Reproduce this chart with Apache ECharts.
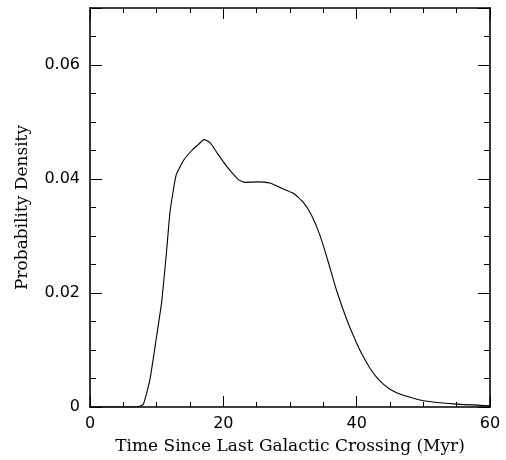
<!DOCTYPE html>
<html><head><meta charset="utf-8">
<script src="https://cdn.jsdelivr.net/npm/echarts@6/dist/echarts.min.js"></script>
<style>html,body{margin:0;padding:0;background:#fff}#c{width:506px;height:460px}</style>
</head><body><div id="c"></div>
<script>
var xValues = [0, 7, 8, 9, 10, 10.75, 11.5, 12, 12.9, 14, 15.25, 16.2, 17.1, 18, 19, 20, 21, 22.25, 23.25, 25, 27, 28.5, 30.5, 32, 33.25, 34.5, 35.75, 37, 38.5, 40, 41, 42, 43, 44, 45, 46, 47.5, 50, 55, 60];
var densityValues = [0, 0, 0.0005, 0.0049, 0.0125, 0.0184, 0.0275, 0.0342, 0.0406, 0.0432, 0.0450, 0.0460, 0.0469, 0.0464, 0.0447, 0.0430, 0.0415, 0.0399, 0.0394, 0.0395, 0.0393, 0.0385, 0.0375, 0.0359, 0.0336, 0.0301, 0.0254, 0.0204, 0.0154, 0.0112, 0.0088, 0.0068, 0.0052, 0.0040, 0.0031, 0.0025, 0.0019, 0.0011, 0.0005, 0.0002];
var xTickLabels = ['0', '20', '40', '60'];
var yTickLabels = ['0', '0.02', '0.04', '0.06'];

var chart = echarts.init(document.getElementById('c'), null, {renderer: 'canvas'});
var serif = 'DejaVu Serif';
var sans = 'DejaVu Sans';
function xAx(pos, major, showLabel, showLine, name) {
  return {
    type: 'value', position: pos, min: 0, max: 60, interval: major ? 20 : 5,
    axisLine: {show: showLine, onZero: false, lineStyle: {color: '#000', width: 1.6}},
    axisTick: {show: true, inside: true, length: major ? 11 : 5, lineStyle: {color: '#000', width: 1}},
    axisLabel: {show: showLabel, margin: 9, color: '#000', fontFamily: sans, fontSize: 16,
      formatter: function (v) { var i = xTickLabels.indexOf(String(v)); return i >= 0 ? xTickLabels[i] : ''; }},
    splitLine: {show: false},
    name: name || '', nameLocation: 'middle', nameGap: 31,
    nameTextStyle: {color: '#000', fontFamily: serif, fontSize: 17}
  };
}
function yAx(pos, major, showLabel, showLine, name) {
  return {
    type: 'value', position: pos, min: 0, max: 0.07, interval: major ? 0.02 : 0.005,
    axisLine: {show: showLine, onZero: false, lineStyle: {color: '#000', width: 1.6}},
    axisTick: {show: true, inside: true, length: major ? 12 : 6, lineStyle: {color: '#000', width: 1}},
    axisLabel: {show: showLabel, margin: 10, color: '#000', fontFamily: sans, fontSize: 16,
      formatter: function (v) { var s = String(+v.toFixed(3)); return yTickLabels.indexOf(s) >= 0 ? s : ''; }},
    splitLine: {show: false},
    name: name || '', nameLocation: 'middle', nameGap: 59,
    nameTextStyle: {color: '#000', fontFamily: serif, fontSize: 17}
  };
}
chart.setOption({
  backgroundColor: '#fff',
  animation: false,
  grid: {left: 90, right: 16, top: 8, bottom: 52, containLabel: false},
  xAxis: [
    xAx('bottom', true, true, true, 'Time Since Last Galactic Crossing (Myr)'),
    xAx('bottom', false, false, false),
    xAx('top', true, false, true),
    xAx('top', false, false, false)
  ],
  yAxis: [
    yAx('left', true, true, true, 'Probability Density'),
    yAx('left', false, false, false),
    yAx('right', true, false, true),
    yAx('right', false, false, false)
  ],
  series: [{
    type: 'line', xAxisIndex: 0, yAxisIndex: 0,
    data: xValues.map(function (x, i) { return [x, densityValues[i]]; }),
    showSymbol: false, smooth: 0.15,
    lineStyle: {color: '#000', width: 1.1}
  }]
});
</script></body></html>
